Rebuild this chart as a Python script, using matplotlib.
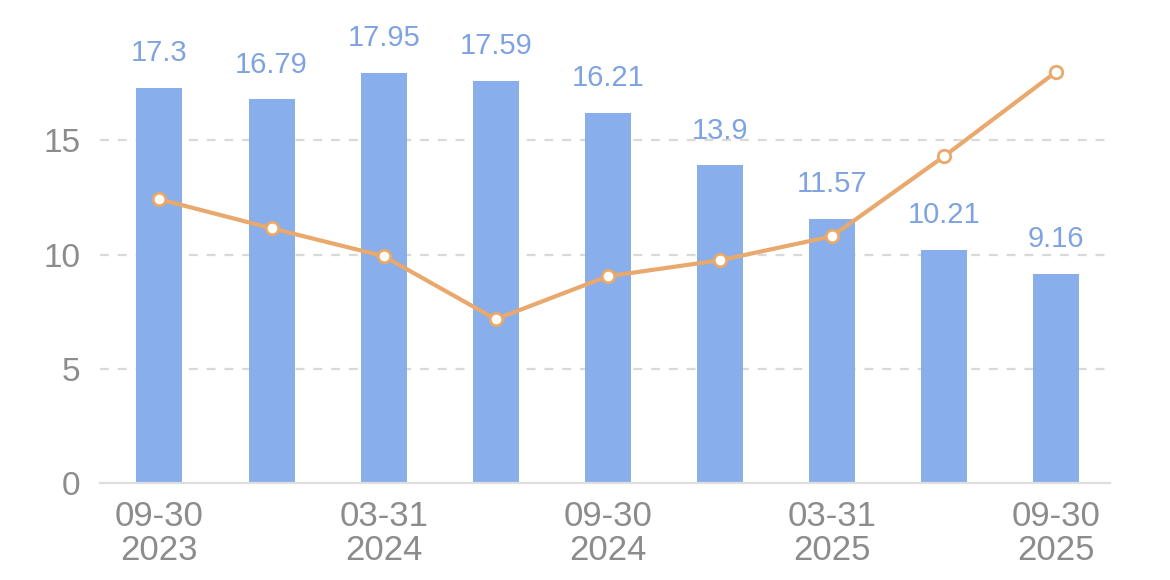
import numpy as np
import matplotlib.pyplot as plt

# data
dates = ["09-30\n2023", "12-31\n2023", "03-31\n2024", "06-30\n2024", "09-30\n2024",
         "12-31\n2024", "03-31\n2025", "06-30\n2025", "09-30\n2025"]
bar_vals = [17.3, 16.79, 17.95, 17.59, 16.21, 13.9, 11.57, 10.21, 9.16]
line_vals = [12.42, 11.15, 9.93, 7.17, 9.05, 9.75, 10.80, 14.30, 18.0]
yticks = [0, 5, 10, 15]

BAR_C = "#88AEEB"
LABEL_C = "#7FA3E0"
LINE_C = "#E9A86C"
TEXT_C = "#8C8C8C"

plt.rcParams['font.family'] = ['Liberation Sans', 'DejaVu Sans']

fig = plt.figure(figsize=(11.7, 5.8), dpi=100)
ax = fig.add_axes([0.0855, 0.1672, 0.8632, 0.7878])

x = np.arange(len(dates))
ax.bar(x, bar_vals, width=0.41, color=BAR_C, zorder=2)
for xi, v in zip(x, bar_vals):
    ax.annotate(f"{v:g}", (xi, v), xytext=(0, 15), textcoords="offset points",
                ha="center", va="bottom", color=LABEL_C, fontsize=21)

ax.plot(x, line_vals, color=LINE_C, lw=3, marker="o", ms=9,
        mfc="white", mec=LINE_C, mew=2, zorder=3)

ax.set_xlim(-0.53, 8.48)
ax.set_ylim(0, 20)
ax.set_yticks(yticks)
ax.set_yticklabels([str(t) for t in yticks])
ax.set_xticks(x[::2])
ax.set_xticklabels([dates[i] for i in range(0, len(dates), 2)], linespacing=1.05)

for y in yticks[1:]:
    ax.axhline(y, color="#D9D9D9", lw=1.6, ls=(0, (4, 4)), zorder=1)

for s in ["top", "right", "left"]:
    ax.spines[s].set_visible(False)
ax.spines["bottom"].set_color("#DDDDDD")
ax.spines["bottom"].set_linewidth(1.6)
ax.tick_params(axis="y", length=0, colors=TEXT_C, labelsize=24, pad=14)
ax.tick_params(axis="x", length=0, colors=TEXT_C, labelsize=25, pad=12)

fig.savefig("out.png", dpi=100, facecolor="white")
